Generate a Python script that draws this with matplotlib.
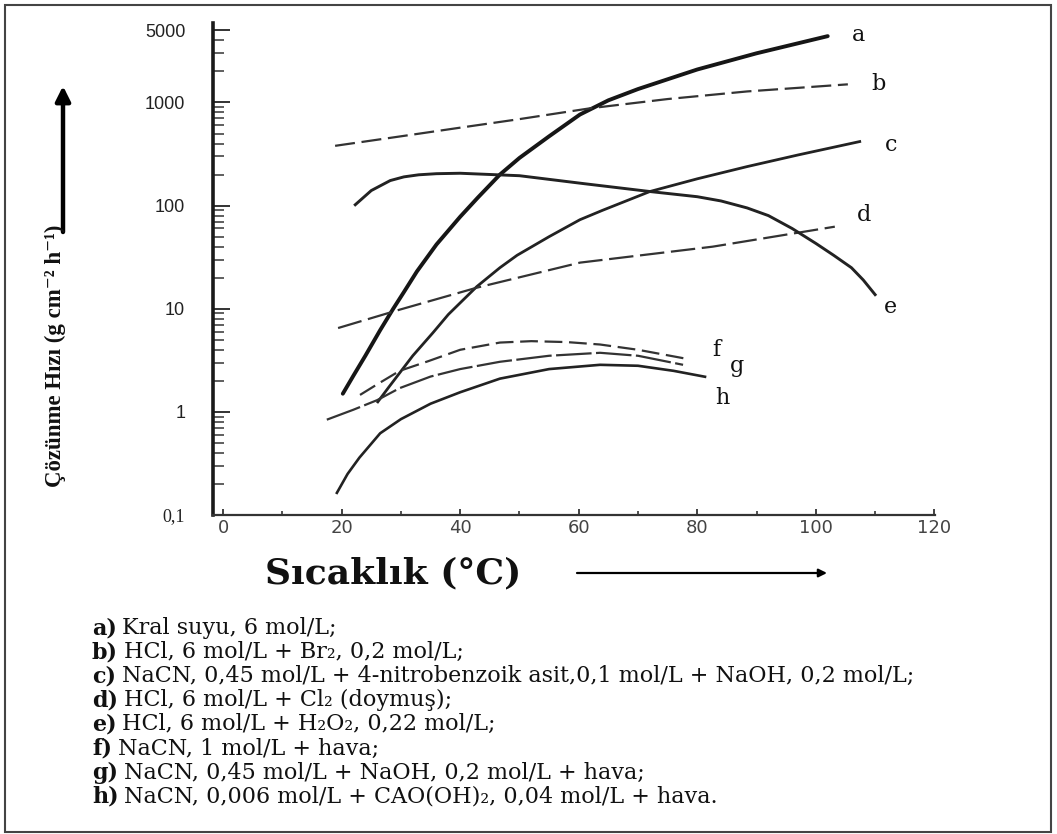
import matplotlib
matplotlib.use("Agg")
import matplotlib.pyplot as plt
from matplotlib.ticker import FixedLocator, FixedFormatter, LogLocator, NullFormatter, MultipleLocator
from matplotlib.patches import Rectangle

# curves: temperature (°C) and dissolution rate (g cm-2 h-1)
a_T = [20.2, 22, 24, 26.5, 28.7, 30.5, 32.7, 36, 40, 43, 46.7, 50, 55, 60.2, 65, 70, 80, 90, 102]
a_R = [1.5, 2.25, 3.5, 6.2, 10, 14.5, 23, 42, 78, 120, 200, 290, 470, 764, 1050, 1350, 2090, 3000, 4400]

b_T = [18.9, 30, 40, 50, 62, 75, 88.4, 105.4]
b_R = [380, 470, 570, 690, 880, 1080, 1280, 1500]

c_T = [26.1, 28, 29.8, 32, 35.4, 38, 42.8, 46.7, 49.6, 55, 60.2, 64, 72, 80, 88.4, 97, 107.4]
c_R = [1.25, 1.75, 2.39, 3.5, 5.85, 8.8, 16.4, 25, 33, 50, 73, 90, 137, 182, 239, 310, 418]

d_T = [19.4, 29.8, 42.8, 60.2, 82.6, 103.2]
d_R = [6.5, 9.8, 16, 28, 40, 62.5]

e_T = [22.3, 25, 28.2, 30.5, 33, 36, 40, 50, 61, 72, 80, 84, 88.4, 92, 96, 100, 103, 106, 108, 110]
e_R = [102, 140, 175, 190, 199, 204, 206, 195, 163, 137, 122, 111, 95, 80, 60, 43, 33, 25, 19, 13.7]

f_T = [23.1, 26, 29.8, 34.6, 40, 46.7, 52, 58, 63.6, 70, 78.2]
f_R = [1.46, 1.85, 2.5, 3.1, 4.0, 4.7, 4.85, 4.75, 4.5, 4.0, 3.27]

g_T = [17.5, 22, 26, 29.8, 35, 40, 46.7, 55, 63.6, 70, 77.6]
g_R = [0.84, 1.05, 1.3, 1.7, 2.2, 2.6, 3.06, 3.5, 3.74, 3.5, 2.86]

h_T = [19.2, 21, 23, 26.5, 30, 35, 40, 46.7, 55, 63.6, 70, 76, 81.3]
h_R = [0.164, 0.25, 0.36, 0.62, 0.85, 1.2, 1.55, 2.1, 2.6, 2.86, 2.8, 2.5, 2.19]

curve_names = ["a", "b", "c", "d", "e", "f", "g", "h"]

y_ticks = [0.1, 1, 10, 100, 1000, 5000]
y_tick_labels = ["0,1", "1", "10", "100", "1000", "5000"]
x_ticks = [0, 20, 40, 60, 80, 100, 120]

legend_keys = ["a)", "b)", "c)", "d)", "e)", "f)", "g)", "h)"]
legend_texts = [
    "Kral suyu, 6 mol/L;",
    "HCl, 6 mol/L + Br\u2082, 0,2 mol/L;",
    "NaCN, 0,45 mol/L + 4-nitrobenzoik asit,0,1 mol/L + NaOH, 0,2 mol/L;",
    "HCl, 6 mol/L + Cl\u2082 (doymu\u015f);",
    "HCl, 6 mol/L + H\u2082O\u2082, 0,22 mol/L;",
    "NaCN, 1 mol/L + hava;",
    "NaCN, 0,45 mol/L + NaOH, 0,2 mol/L + hava;",
    "NaCN, 0,006 mol/L + CAO(OH)\u2082, 0,04 mol/L + hava.",
]

W, H = 1057, 834
fig = plt.figure(figsize=(W / 100, H / 100), dpi=100)
fig.patch.set_facecolor("white")
ax = fig.add_axes([213 / W, 1 - 515 / H, 722 / W, 492 / H])

ax.set_yscale("log")
ax.set_xlim(-1.7, 120.1)
ax.set_ylim(0.1, 5900)

ink = "#222222"
ax.plot(a_T, a_R, color="#161616", lw=2.8, solid_capstyle="round")
ax.plot(b_T, b_R, color="#333333", lw=1.6, dashes=(9, 3))
ax.plot(c_T, c_R, color=ink, lw=2.0)
ax.plot(d_T, d_R, color="#333333", lw=1.6, dashes=(11, 3))
ax.plot(e_T, e_R, color=ink, lw=2.1)
ax.plot(f_T, f_R, color="#333333", lw=1.6, dashes=(8, 3))
ax.plot(g_T, g_R, color="#333333", lw=1.6, dashes=(16, 2))
ax.plot(h_T, h_R, color=ink, lw=1.9)

# curve letters next to line ends
label_pos = [(106, 4500), (109.3, 1500), (111.6, 390), (107, 82), (111.5, 10.3),
             (82.5, 4.0), (85.5, 2.8), (83.1, 1.37)]
for name, (lx, ly) in zip(curve_names, label_pos):
    ax.text(lx, ly, name, fontsize=16, family="DejaVu Serif", color="#111111",
            ha="left", va="center", clip_on=False)

for side in ["top", "right"]:
    ax.spines[side].set_visible(False)
ax.spines["left"].set_linewidth(2.6)
ax.spines["left"].set_color("#1a1a1a")
ax.spines["bottom"].set_linewidth(1.6)
ax.spines["bottom"].set_color("#333333")

ax.yaxis.set_major_locator(FixedLocator(y_ticks))
ax.yaxis.set_major_formatter(FixedFormatter(y_tick_labels))
ax.yaxis.set_minor_locator(LogLocator(base=10, subs=[2, 3, 4, 5, 6, 7, 8, 9]))
ax.yaxis.set_minor_formatter(NullFormatter())
ax.tick_params(axis="y", which="major", direction="in", length=12, width=1.4,
               pad=20, labelsize=13, labelcolor="#222222", color="#333333")
ax.tick_params(axis="y", which="minor", direction="in", length=8, width=1.2, color="#444444")
for t in ax.get_yticklabels():
    t.set_family("Liberation Sans")
ax.get_yticklabels()[0].set_family("Liberation Serif")

ax.xaxis.set_major_locator(FixedLocator(x_ticks))
ax.xaxis.set_minor_locator(MultipleLocator(10))
ax.tick_params(axis="x", which="major", direction="in", length=4, width=1.3,
               pad=3, labelsize=13, labelcolor="#444444", color="#333333")
ax.tick_params(axis="x", which="minor", direction="in", length=3, width=1.2, color="#333333")

# axis titles with arrows
fig.text(55 / W, 1 - 356 / H, "\u00c7\u00f6z\u00fcnme H\u0131z\u0131 (g cm\u207b\u00b2 h\u207b\u00b9)",
         rotation=90, ha="center", va="center", fontsize=16.5, fontweight="bold",
         family=["Liberation Serif", "DejaVu Serif"], color="#111111")
fig.add_artist(plt.Annotation("", xy=(63 / W, 1 - 86 / H), xycoords="figure fraction",
                              xytext=(63 / W, 1 - 232 / H), textcoords="figure fraction",
                              arrowprops=dict(arrowstyle="-|>", lw=3.2, color="black",
                                              mutation_scale=22, shrinkA=0, shrinkB=0)))

fig.text(265 / W, 1 - 573 / H, "S\u0131cakl\u0131k (\u00b0C)", ha="left", va="center",
         fontsize=26, fontweight="bold", family="DejaVu Serif", color="#111111")
fig.add_artist(plt.Annotation("", xy=(827 / W, 1 - 573 / H), xycoords="figure fraction",
                              xytext=(577 / W, 1 - 573 / H), textcoords="figure fraction",
                              arrowprops=dict(arrowstyle="-|>", lw=1.6, color="black",
                                              mutation_scale=12, shrinkA=0, shrinkB=0)))

# condition list under the chart
for i, (key, txt) in enumerate(zip(legend_keys, legend_texts)):
    yb = 1 - (634 + i * 24.1) / H
    k = fig.text(92 / W, yb, key, ha="left", va="baseline", fontsize=16,
                 fontweight="bold", family="DejaVu Serif", color="#111111")
    fig.add_artist(plt.Annotation(txt, xy=(1, 0), xycoords=k, xytext=(4, 0),
                                  textcoords="offset points", ha="left", va="bottom",
                                  fontsize=16, family="DejaVu Serif", color="#111111"))

fig.add_artist(Rectangle((5 / W, 2 / H), 1046 / W, 827 / H, transform=fig.transFigure,
                         fill=False, lw=1.5, edgecolor="#444444"))

fig.savefig("out.png", dpi=100)
